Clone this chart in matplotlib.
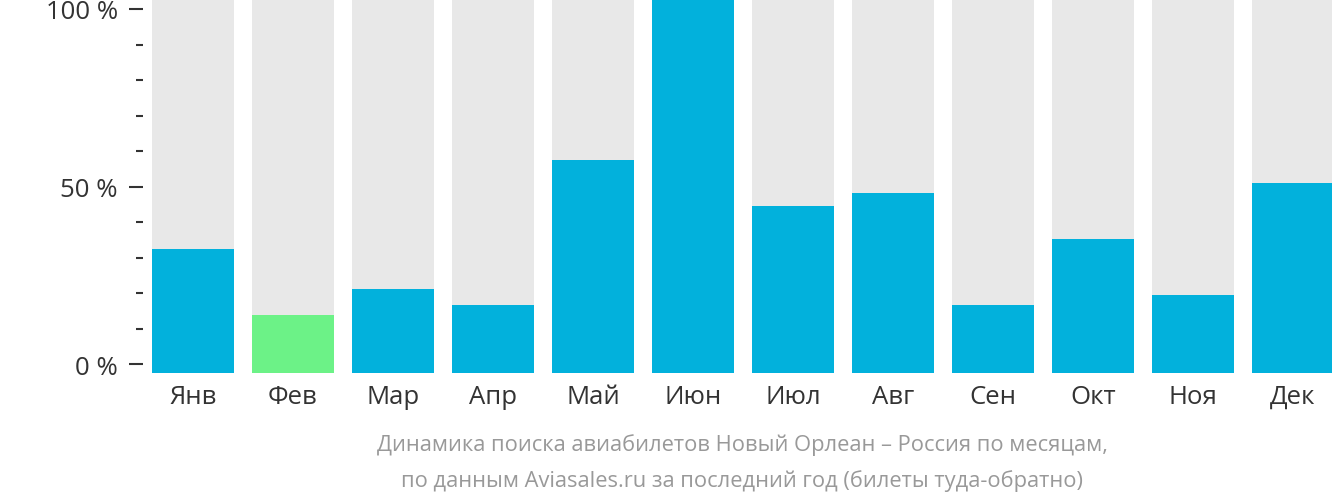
import matplotlib
matplotlib.use('Agg')
import matplotlib.pyplot as plt
from matplotlib.ticker import MultipleLocator, FuncFormatter

plt.rcParams['font.family'] = ['Open Sans', 'DejaVu Sans']

months = ['Янв', 'Фев', 'Мар', 'Апр', 'Май', 'Июн',
          'Июл', 'Авг', 'Сен', 'Окт', 'Ноя', 'Дек']
values = [33.2, 15.5, 22.5, 18.2, 57.0, 100, 44.7, 48.1, 18.2, 35.8, 20.9, 50.8]
highlight = 'Фев'  # lowest month, drawn green

BLUE = '#02b1dc'
GREEN = '#6cf287'
GREY = '#e8e8e8'
TEXT = '#333333'

W, H = 1332, 502
fig = plt.figure(figsize=(W / 100, H / 100), dpi=100)

# bar axes: x from 152 px to 1334 px, y from 374 px (bottom) to 0 px (top)
rect = [152 / W, (H - 374) / H, 1182 / W, 374 / H]
ax = fig.add_axes(rect)
x = list(range(len(months)))
colors = [GREEN if m == highlight else BLUE for m in months]
ax.bar(x, [100] * len(x), width=0.82, color=GREY, zorder=1)
ax.bar(x, values, width=0.82, color=colors, zorder=2)
ax.set_xlim(-0.41, len(months) - 1 + 0.41)
ax.set_ylim(0, 100)
ax.set_xticks(x)
ax.set_xticklabels(months, fontsize=18.5, color=TEXT)
ax.tick_params(axis='x', length=0, pad=8)
ax.set_yticks([])
for s in ax.spines.values():
    s.set_visible(False)

# separate scale for the percent ticks (slightly inset vs. the bars)
ax2 = fig.add_axes(rect)
ax2.patch.set_visible(False)
ax2.set_ylim(-2.4, 102.8)
ax2.set_xticks([])
for s in ax2.spines.values():
    s.set_visible(False)
ax2.spines['left'].set_position(('outward', 6.5))
ax2.yaxis.set_major_locator(MultipleLocator(50))
ax2.yaxis.set_minor_locator(MultipleLocator(10))
ax2.yaxis.set_major_formatter(FuncFormatter(lambda v, p: '%d %%' % v))
ax2.tick_params(axis='y', which='major', length=10, width=1.5, color=TEXT,
                labelsize=18.5, labelcolor=TEXT, pad=8)
ax2.tick_params(axis='y', which='minor', length=5, width=1.5, color=TEXT)

cap1 = 'Динамика поиска авиабилетов Новый Орлеан – Россия по месяцам,'
cap2 = 'по данным Aviasales.ru за последний год (билеты туда-обратно)'
fig.text(742 / W, 1 - 445 / H, cap1, ha='center', va='center', fontsize=15.75, color='#999999')
fig.text(742 / W, 1 - 481 / H, cap2, ha='center', va='center', fontsize=15.75, color='#999999')

fig.savefig('out.png', dpi=100)
